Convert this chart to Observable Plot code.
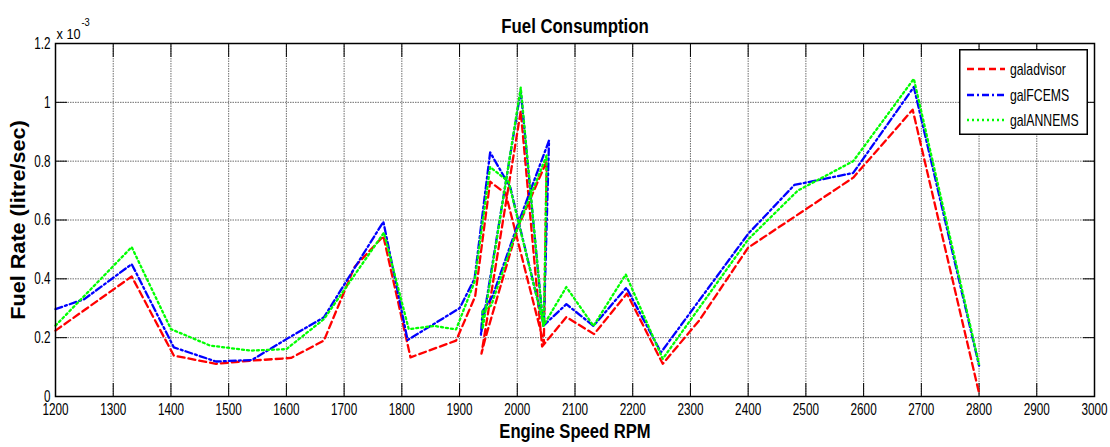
<!DOCTYPE html>
<html><head><meta charset="utf-8">
<script src="https://cdn.jsdelivr.net/npm/d3@7"></script>
<script src="https://cdn.jsdelivr.net/npm/@observablehq/plot@0.6"></script>
<style>
body{margin:0;background:#fff;}
#wrap{position:relative;width:1110px;height:447px;overflow:hidden;}
#wrap svg{display:block;}
.legend{position:absolute;left:959px;top:49px;width:129px;height:86px;}
</style></head><body><div id="wrap"></div>
<script>
// ---- data (fuel rate in units of 1e-3 litre/sec) ----
const seriesNames = ["galadvisor", "galFCEMS", "galANNEMS"];
const seriesColors = ["#ff0000", "#0000ff", "#00ff00"];

const advisorRpm = [1200, 1332, 1405, 1478, 1540, 1608, 1665, 1718, 1768, 1815, 1894, 1927, 1953, 1980, 2046, 2051, 2000, 1945, 1938, 2006, 2043, 2085, 2133, 2190, 2252, 2315, 2400, 2582, 2685, 2800];
const advisorVal = [0.224, 0.408, 0.139, 0.111, 0.122, 0.131, 0.19, 0.44, 0.545, 0.133, 0.19, 0.34, 0.73, 0.69, 0.18, 0.80, 0.57, 0.20, 0.146, 0.97, 0.17, 0.27, 0.212, 0.35, 0.111, 0.258, 0.506, 0.744, 0.975, 0.012];

const fcemsRpm = [1200, 1250, 1332, 1405, 1478, 1540, 1600, 1665, 1768, 1810, 1900, 1926, 1953, 1988, 2046, 2055, 2000, 1957, 1940, 1937, 2006, 2045, 2085, 2132, 2189, 2249, 2400, 2480, 2582, 2687, 2800];
const fcemsVal = [0.297, 0.331, 0.45, 0.167, 0.119, 0.124, 0.195, 0.269, 0.594, 0.192, 0.30, 0.40, 0.83, 0.71, 0.24, 0.87, 0.58, 0.34, 0.29, 0.21, 1.04, 0.24, 0.314, 0.24, 0.37, 0.15, 0.553, 0.719, 0.76, 1.052, 0.105];

const annemsRpm = [1200, 1332, 1400, 1468, 1538, 1600, 1665, 1769, 1812, 1856, 1894, 1926, 1953, 1985, 2046, 2051, 2000, 1955, 1940, 1940, 2006, 2045, 2085, 2132, 2188, 2252, 2400, 2486, 2582, 2687, 2800];
const annemsVal = [0.241, 0.508, 0.229, 0.173, 0.156, 0.161, 0.263, 0.557, 0.229, 0.24, 0.228, 0.39, 0.78, 0.73, 0.24, 0.82, 0.57, 0.31, 0.29, 0.23, 1.05, 0.24, 0.372, 0.24, 0.415, 0.128, 0.534, 0.70, 0.80, 1.08, 0.11];

const xTicks = [1200, 1300, 1400, 1500, 1600, 1700, 1800, 1900, 2000, 2100, 2200, 2300, 2400, 2500, 2600, 2700, 2800, 2900, 3000];
const yTicks = [0, 0.2, 0.4, 0.6, 0.8, 1, 1.2];

const titleText = "Fuel Consumption";
const xLabel = "Engine Speed RPM";
const yLabel = "Fuel Rate (litre/sec)";
const expBase = "x 10";
const expPow = "-3";

// ---- build tables ----
const toRows = (rpm, val) => rpm.map((r, i) => ({rpm: r, val: val[i]}));
const advisor = toRows(advisorRpm, advisorVal);
const fcems = toRows(fcemsRpm, fcemsVal);
const annems = toRows(annemsRpm, annemsVal);

const font = "'Liberation Sans',Arial,Helvetica,sans-serif";
const blank = () => "";
const dashes = ["7,4", "7,3,2,3", "2,3"];

const chart = Plot.plot({
  width: 1110,
  height: 447,
  marginLeft: 55,
  marginRight: 16,
  marginTop: 43,
  marginBottom: 51,
  style: {fontFamily: font, fontSize: "17px", color: "#000", background: "#fff", overflow: "visible"},
  x: {domain: [1200, 3000]},
  y: {domain: [0, 1.2]},
  marks: [
    Plot.gridX(xTicks, {stroke: "#6e6e6e", strokeOpacity: 1, strokeDasharray: "1.5,1"}),
    Plot.gridY(yTicks, {stroke: "#6e6e6e", strokeOpacity: 1, strokeDasharray: "1.5,1"}),
    Plot.axisX(xTicks, {anchor: "bottom", tickSize: -13, tickPadding: 19, label: null, tickFormat: d => String(d)}),
    Plot.axisX(xTicks, {anchor: "top", tickSize: -13, label: null, tickFormat: blank}),
    Plot.axisY(yTicks, {anchor: "left", tickSize: -12, tickPadding: 17, label: null, tickFormat: d => String(d)}),
    Plot.axisY(yTicks, {anchor: "right", tickSize: -12, label: null, tickFormat: blank}),
    Plot.line(advisor, {x: "rpm", y: "val", stroke: seriesColors[0], strokeWidth: 2.3, strokeDasharray: dashes[0]}),
    Plot.line(fcems, {x: "rpm", y: "val", stroke: seriesColors[1], strokeWidth: 2.3, strokeDasharray: dashes[1]}),
    Plot.line(annems, {x: "rpm", y: "val", stroke: seriesColors[2], strokeWidth: 2.3, strokeDasharray: dashes[2]}),
    Plot.frame({stroke: "#000", strokeWidth: 1.5}),
    Plot.text([titleText], {frameAnchor: "top", dy: -25, fontWeight: "bold", fontSize: 20}),
    Plot.text([xLabel], {frameAnchor: "bottom", dy: 41, fontWeight: "bold", fontSize: 20}),
    Plot.text([yLabel], {frameAnchor: "left", dx: -37, rotate: -90, textAnchor: "middle", fontWeight: "bold", fontSize: 20}),
    Plot.text([expBase], {frameAnchor: "top-left", dx: 1, dy: -15, textAnchor: "start", fontSize: 15}),
    Plot.text([expPow], {frameAnchor: "top-left", dx: 26, dy: -25, textAnchor: "start", fontSize: 11})
  ]
});

const wrap = document.getElementById("wrap");
wrap.appendChild(chart);

// ---- legend ----
const legend = d3.select(wrap).append("svg").attr("class", "legend")
  .attr("width", 129).attr("height", 86)
  .style("font-family", font).style("font-size", "17px");
legend.append("rect").attr("x", 0.75).attr("y", 0.75).attr("width", 127.5).attr("height", 84.5)
  .attr("fill", "#fff").attr("stroke", "#000").attr("stroke-width", 1.5);
const rowY = [20, 46, 71];
seriesNames.forEach((name, i) => {
  legend.append("line").attr("x1", 8).attr("x2", 46).attr("y1", rowY[i]).attr("y2", rowY[i])
    .attr("stroke", seriesColors[i]).attr("stroke-width", 2.3).attr("stroke-dasharray", dashes[i]);
  legend.append("text").attr("class", "legtext").attr("x", 51).attr("y", rowY[i]).attr("dy", "0.35em").text(name);
});

// ---- narrow (or widen) glyphs to match the reference's squeezed Helvetica ----
function squeeze(nodes, k) {
  nodes.forEach(t => {
    const w = t.getComputedTextLength();
    if (w > 0) {
      t.setAttribute("textLength", (w * k).toFixed(1));
      t.setAttribute("lengthAdjust", "spacingAndGlyphs");
    }
  });
}
const q = s => Array.from(wrap.querySelectorAll(s));
const byText = s => q("text").filter(t => t.textContent === s);
squeeze(q('[aria-label="x-axis tick label"] text'), 0.69);
squeeze(q('[aria-label="y-axis tick label"] text'), 0.69);
squeeze(byText(titleText), 0.84);
squeeze(byText(xLabel), 0.83);
squeeze(byText(yLabel), 1.08);
squeeze(byText(expBase), 0.85);
squeeze(byText(expPow), 0.85);
squeeze(q('.legtext'), 0.72);
</script>
</body></html>
